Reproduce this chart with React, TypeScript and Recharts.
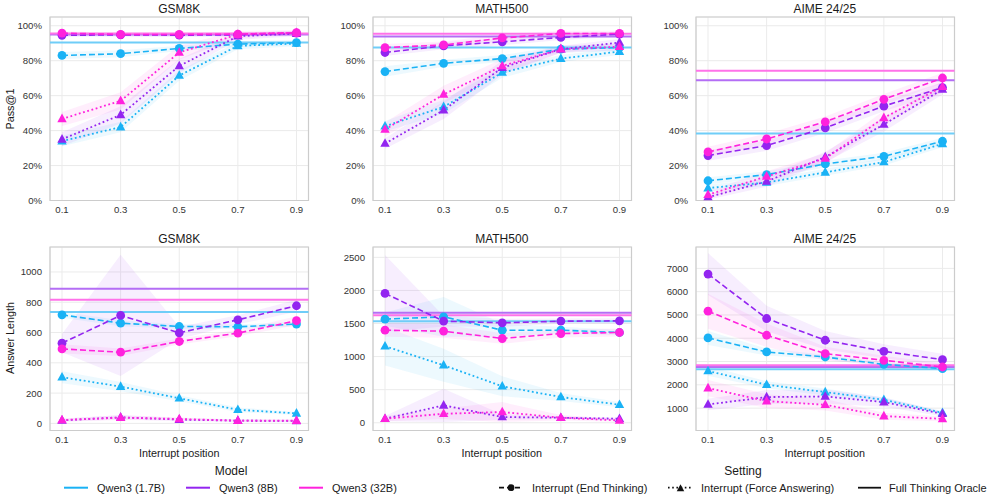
import React from 'react';
import { ComposedChart, Line, Area, XAxis, YAxis, CartesianGrid, ReferenceLine, ReferenceArea } from 'recharts';

// ---------- data ----------
const positions = [0.1, 0.3, 0.5, 0.7, 0.9];
const modelNames = ['Qwen3 (1.7B)', 'Qwen3 (8B)', 'Qwen3 (32B)'];
const modelColors = ['#1ab2f5', '#9325f0', '#ff22dd'];
const oracleColors = ['#6fcdf8', '#b46ef5', '#ff72e9'];
const settingNames = ['Interrupt (End Thinking)', 'Interrupt (Force Answering)', 'Full Thinking Oracle'];
const panelTitles = ['GSM8K', 'MATH500', 'AIME 24/25'];

// Pass@1 (%) — GSM8K
const gsmPassEnd17 = [83, 84, 87, 89.5, 90.3];
const gsmPassForce17 = [34, 42, 71.5, 88.5, 89.8];
const gsmPassEnd8 = [94.5, 94.8, 94.6, 94.8, 95.8];
const gsmPassForce8 = [35, 49, 77, 94, 95.5];
const gsmPassEnd32 = [95.8, 95, 95, 95.2, 96];
const gsmPassForce32 = [46.7, 57, 84.7, 95, 96];
const gsmPassOracle = [90.4, 95, 95.6];
const gsmPassErr = [[2, 2, 1.5, 1.5, 1.5], [3, 3, 3, 2, 1.5], [1, 1, 1, 1, 1], [4, 5, 4, 2, 1.5], [1, 1, 1, 1, 1], [4, 5, 4, 2, 1.5]];

// Pass@1 (%) — MATH500
const mathPassEnd17 = [73.8, 78.5, 81.2, 86.6, 87.5];
const mathPassForce17 = [42.5, 53.6, 73.2, 81.2, 85.2];
const mathPassEnd8 = [84.7, 88.5, 90.8, 93.3, 95.2];
const mathPassForce8 = [32.6, 51.7, 76, 86.6, 90.4];
const mathPassEnd32 = [87.5, 89, 93, 95.6, 95.6];
const mathPassForce32 = [40.6, 60.7, 77, 86.6, 88];
const mathPassOracle = [87.5, 93.9, 95.4];
const mathPassErr = [[3, 2, 2, 2, 2], [3, 4, 3, 2, 2], [2, 2, 2, 1.5, 1.5], [3, 5, 4, 2, 2], [2, 2, 2, 1.5, 1.5], [4, 5, 4, 2, 2]];

// Pass@1 (%) — AIME 24/25
const aimePassEnd17 = [11.3, 14.8, 20.9, 25.3, 33.9];
const aimePassForce17 = [7.1, 10.3, 16.1, 22, 32.4];
const aimePassEnd8 = [25.7, 31.4, 41.6, 54, 64.6];
const aimePassForce8 = [1.9, 10.9, 24.9, 43.5, 63.6];
const aimePassEnd32 = [27.8, 35.2, 45, 57.9, 70.1];
const aimePassForce32 = [3.3, 13.8, 24, 47.3, 65.1];
const aimePassOracle = [38.3, 68.8, 74.3];
const aimePassErr = [[2, 2, 2, 2, 2], [2, 2, 2, 2, 2], [3, 3, 3, 3, 3], [1.5, 3, 3, 4, 3], [3, 3, 3, 3, 3], [2, 3, 3, 4, 3]];

// Answer length — GSM8K
const gsmLenEnd17 = [717, 662, 640, 638, 656];
const gsmLenForce17 = [305, 243, 166, 90, 66];
const gsmLenEnd8 = [530, 713, 598, 684, 777];
const gsmLenForce8 = [20, 40, 25, 18, 16];
const gsmLenEnd32 = [492, 470, 541, 596, 678];
const gsmLenForce32 = [22, 38, 29, 18, 18];
const gsmLenOracle = [735, 890, 817];
const gsmLenErr = [[20, 20, 15, 15, 15], [40, 30, 20, 15, 10], [60, 400, 40, 30, 40], [10, 15, 10, 8, 8], [30, 25, 20, 20, 30], [10, 15, 10, 8, 8]];

// Answer length — MATH500
const mathLenEnd17 = [1566, 1601, 1399, 1399, 1364];
const mathLenForce17 = [1157, 869, 551, 389, 273];
const mathLenEnd8 = [1955, 1535, 1510, 1535, 1540];
const mathLenForce8 = [61, 263, 86, 76, 61];
const mathLenEnd32 = [1399, 1384, 1273, 1348, 1364];
const mathLenForce32 = [61, 136, 162, 76, 35];
const mathLenOracle = [1535, 1662, 1626];
const mathLenErr = [[100, 300, 100, 50, 40], [290, 250, 150, 60, 40], [580, 80, 60, 40, 40], [40, 250, 40, 20, 20], [100, 100, 80, 60, 60], [40, 80, 150, 40, 20]];

// Answer length — AIME 24/25
const aimeLenEnd17 = [4014, 3411, 3196, 2880, 2694];
const aimeLenForce17 = [2593, 2005, 1689, 1359, 799];
const aimeLenEnd8 = [6756, 4847, 3914, 3440, 3081];
const aimeLenForce8 = [1158, 1474, 1502, 1258, 756];
const aimeLenEnd32 = [5163, 4129, 3340, 3053, 2766];
const aimeLenForce32 = [1861, 1301, 1144, 656, 541];
const aimeLenOracle = [2665, 2766, 2837];
const aimeLenErr = [[300, 150, 100, 100, 80], [200, 150, 150, 100, 80], [900, 550, 400, 300, 250], [250, 300, 300, 200, 100], [750, 500, 300, 200, 150], [350, 300, 250, 150, 100]];

const passTicks = [0, 20, 40, 60, 80, 100];
const gsmLenTicks = [0, 200, 400, 600, 800, 1000];
const mathLenTicks = [0, 500, 1000, 1500, 2000, 2500];
const aimeLenTicks = [1000, 2000, 3000, 4000, 5000, 6000, 7000];

// ---------- layout ----------
const FONT = '"Liberation Sans", Arial, sans-serif';
const plotLefts = [50, 372.5, 695.5];
const plotW = 258.5;
const rowTops = [17, 246.7];
const plotH = 183.5;
const xDomain = [0.059, 0.941];

type Panel = {
  title: string; left: number; top: number; domain: number[]; ticks: number[];
  pct: boolean; series: number[][]; err: number[][]; oracle: number[]; ylabel?: string;
};

const panels: Panel[] = [
  { title: panelTitles[0], left: plotLefts[0], top: rowTops[0], domain: [0, 105], ticks: passTicks, pct: true,
    series: [gsmPassEnd17, gsmPassForce17, gsmPassEnd8, gsmPassForce8, gsmPassEnd32, gsmPassForce32], err: gsmPassErr, oracle: gsmPassOracle, ylabel: 'Pass@1' },
  { title: panelTitles[1], left: plotLefts[1], top: rowTops[0], domain: [0, 105], ticks: passTicks, pct: true,
    series: [mathPassEnd17, mathPassForce17, mathPassEnd8, mathPassForce8, mathPassEnd32, mathPassForce32], err: mathPassErr, oracle: mathPassOracle },
  { title: panelTitles[2], left: plotLefts[2], top: rowTops[0], domain: [0, 105], ticks: passTicks, pct: true,
    series: [aimePassEnd17, aimePassForce17, aimePassEnd8, aimePassForce8, aimePassEnd32, aimePassForce32], err: aimePassErr, oracle: aimePassOracle },
  { title: panelTitles[0], left: plotLefts[0], top: rowTops[1], domain: [-47, 1165], ticks: gsmLenTicks, pct: false,
    series: [gsmLenEnd17, gsmLenForce17, gsmLenEnd8, gsmLenForce8, gsmLenEnd32, gsmLenForce32], err: gsmLenErr, oracle: gsmLenOracle, ylabel: 'Answer Length' },
  { title: panelTitles[1], left: plotLefts[1], top: rowTops[1], domain: [-117, 2656], ticks: mathLenTicks, pct: false,
    series: [mathLenEnd17, mathLenForce17, mathLenEnd8, mathLenForce8, mathLenEnd32, mathLenForce32], err: mathLenErr, oracle: mathLenOracle },
  { title: panelTitles[2], left: plotLefts[2], top: rowTops[1], domain: [40, 7917], ticks: aimeLenTicks, pct: false,
    series: [aimeLenEnd17, aimeLenForce17, aimeLenEnd8, aimeLenForce8, aimeLenEnd32, aimeLenForce32], err: aimeLenErr, oracle: aimeLenOracle },
];

const triPath = (cx: number, cy: number) =>
  `M${cx},${cy - 5.3}L${cx + 4.7},${cy + 3.3}L${cx - 4.7},${cy + 3.3}Z`;

function PanelChart({ p }: { p: Panel }) {
  const data = positions.map((x, i) => {
    const row: any = { x };
    p.series.forEach((s, k) => {
      row['v' + k] = s[i];
      row['b' + k] = [s[i] - p.err[k][i], s[i] + p.err[k][i]];
    });
    return row;
  });
  const tickStyle = { fontSize: 9.6, fill: '#333', fontFamily: FONT };
  return (
    <div style={{ position: 'absolute', left: p.left - 50, top: p.top - 20 }}>
      <ComposedChart width={plotW + 60} height={plotH + 40} data={data}
        margin={{ top: 20, right: 10, left: 5, bottom: 0 }}>
        <CartesianGrid stroke="#ebebeb" strokeWidth={1} />
        <XAxis dataKey="x" type="number" domain={xDomain} ticks={positions} allowDataOverflow
          tickFormatter={(v: number) => v.toFixed(1)} height={20} tickSize={0} tickMargin={6}
          axisLine={false} tick={tickStyle} />
        <YAxis type="number" domain={p.domain} ticks={p.ticks} allowDataOverflow width={45}
          tickFormatter={(v: number) => (p.pct ? `${v}%` : `${v}`)} tickSize={0} tickMargin={8}
          axisLine={false} tick={tickStyle} />
        {p.series.map((_, k) => (
          <Area key={'b' + k} dataKey={'b' + k} type="linear" stroke="none"
            fill={modelColors[Math.floor(k / 2)]} fillOpacity={0.08} isAnimationActive={false}
            activeDot={false} legendType="none" />
        ))}
        {p.oracle.map((v, m) => (
          <ReferenceLine key={'o' + m} y={v} stroke={oracleColors[m]} strokeWidth={2} />
        ))}
        {p.series.map((_, k) => {
          const m = Math.floor(k / 2);
          const color = modelColors[m];
          const force = k % 2 === 1;
          return (
            <Line key={'v' + k} dataKey={'v' + k} type="linear" stroke={color}
              strokeWidth={force ? 1.8 : 1.6} strokeDasharray={force ? '1.8 2.6' : '6 3'}
              isAnimationActive={false} activeDot={false} legendType="none"
              dot={force
                ? (d: any) => (d.cx == null ? <g key={'t' + d.index} /> :
                  <path key={'t' + d.index} d={triPath(d.cx, d.cy)} fill={color} stroke="none" />)
                : (d: any) => (d.cx == null ? <g key={'c' + d.index} /> :
                  <circle key={'c' + d.index} cx={d.cx} cy={d.cy} r={4.4} fill={color} stroke="none" />)}
            />
          );
        })}
        <ReferenceArea x1={xDomain[0]} x2={xDomain[1]} y1={p.domain[0]} y2={p.domain[1]}
          fill="none" stroke="#cccccc" strokeWidth={1.2} ifOverflow="visible" />
      </ComposedChart>
    </div>
  );
}

const textStyle: React.CSSProperties = { position: 'absolute', fontFamily: FONT, color: '#1a1a1a', whiteSpace: 'nowrap', lineHeight: 1 };

export default function App() {
  return (
    <div style={{ position: 'absolute', left: 0, top: 0, width: 997, height: 503, background: '#fff', overflow: 'hidden' }}>
      {panels.map((p, i) => <PanelChart key={i} p={p} />)}
      {panels.map((p, i) => (
        <div key={'t' + i} style={{ ...textStyle, fontSize: 12, left: p.left, width: plotW, textAlign: 'center', top: p.top - 14 }}>
          {p.title}
        </div>
      ))}
      {plotLefts.map((l, i) => (
        <div key={'xl' + i} style={{ ...textStyle, fontSize: 10.8, left: l, width: plotW, textAlign: 'center', top: 448 }}>
          Interrupt position
        </div>
      ))}
      {panels.filter((p) => p.ylabel).map((p, i) => (
        <div key={'yl' + i} style={{ ...textStyle, fontSize: 10.8, left: 10, top: p.top + plotH / 2, width: 0, height: 0 }}>
          <div style={{ position: 'absolute', transform: 'translate(-50%, -50%) rotate(-90deg)', left: 0, top: 0 }}>{p.ylabel}</div>
        </div>
      ))}
      <svg width={997} height={503} style={{ position: 'absolute', left: 0, top: 0, pointerEvents: 'none' }}>
        <g fontFamily={FONT} fill="#1a1a1a">
          <text x={231} y={475} fontSize={12} textAnchor="middle">Model</text>
          <text x={743} y={475} fontSize={12} textAnchor="middle">Setting</text>
          {modelNames.map((n, m) => {
            const lx = [64, 186, 299][m];
            return (
              <g key={n}>
                <line x1={lx} x2={lx + 24} y1={487.7} y2={487.7} stroke={modelColors[m]} strokeWidth={2} />
                <text x={lx + 33} y={491.6} fontSize={11}>{n}</text>
              </g>
            );
          })}
          <line x1={499} x2={523} y1={487.7} y2={487.7} stroke="#111" strokeWidth={1.8} strokeDasharray="5 3" />
          <circle cx={511} cy={487.7} r={3.4} fill="#111" />
          <text x={532} y={491.6} fontSize={11}>{settingNames[0]}</text>
          <line x1={668} x2={693} y1={487.7} y2={487.7} stroke="#111" strokeWidth={1.8} strokeDasharray="1.6 2.6" />
          <path d={triPath(680.5, 488.5).replace(/5\.3/, '5.3')} fill="#111" transform="translate(680.5,488.5) scale(0.8) translate(-680.5,-488.5)" />
          <text x={701} y={491.6} fontSize={11}>{settingNames[1]}</text>
          <line x1={858} x2={881} y1={487.7} y2={487.7} stroke="#111" strokeWidth={1.8} />
          <text x={889} y={491.6} fontSize={11}>{settingNames[2]}</text>
        </g>
      </svg>
    </div>
  );
}
